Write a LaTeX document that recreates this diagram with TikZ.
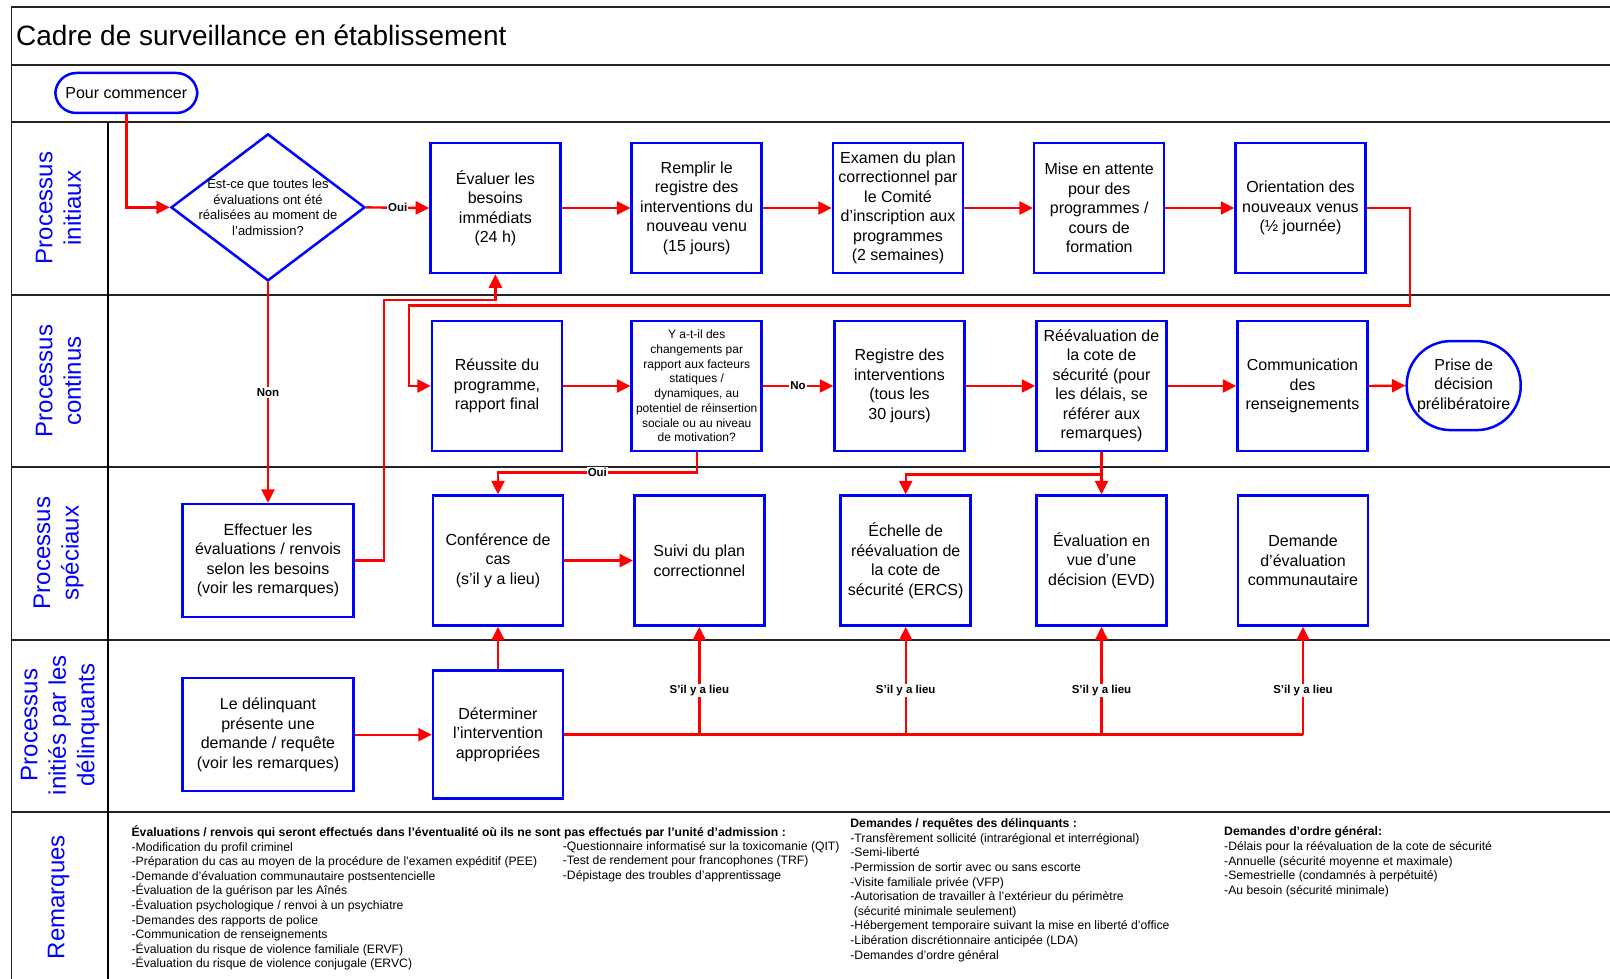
\documentclass[tikz,border=0pt]{standalone}
\usepackage{fontspec}
\setmainfont{Liberation Sans}
\usetikzlibrary{arrows.meta,shapes.geometric,calc}
\definecolor{frameblue}{RGB}{0,0,255}
\definecolor{linered}{RGB}{255,0,0}
\definecolor{gridline}{RGB}{35,35,35}
\begin{document}
\begin{tikzpicture}[x=1pt,y=-1pt,
  box/.style={draw=frameblue,line width=2.5pt,fill=white,minimum width=130pt,minimum height=130pt,align=center,inner sep=1pt,font=\fontsize{16}{19.5}\selectfont},
  widebox/.style={box,minimum width=171pt,minimum height=113pt},
  term/.style={draw=frameblue,line width=2.5pt,fill=white,align=center,inner sep=1pt,font=\fontsize{16}{19.5}\selectfont},
  conn/.style={draw=linered,line width=2.4pt,-{Triangle[length=13.5pt,width=13pt]}},
  plain/.style={draw=linered,line width=2.4pt},
  lbl/.style={font=\bfseries\fontsize{11.5}{13}\selectfont,fill=white,inner sep=1pt},
  lane/.style={rotate=90,text=frameblue,align=center,font=\fontsize{24}{28.5}\selectfont},
  grid/.style={draw=gridline,line width=1.8pt},
  note/.style={anchor=north west,align=left,inner sep=0pt,font=\fontsize{12.2}{14.6}\selectfont}
]
\useasboundingbox (0,0) rectangle (1610,979);
% frame and lanes
\draw[grid] (11.5,979) -- (11.5,6.7) -- (1610,6.7);
\foreach \yy in {65,122,295,467.2,639.7,812.2}{\draw[grid] (11.5,\yy) -- (1610,\yy);}
\draw[draw=black,line width=1.2pt] (108,122) -- (108,979);
% title
\node[anchor=west,inner sep=0pt,font=\fontsize{28}{32}\selectfont] (title) at (16,35) {Cadre de surveillance en établissement};
% lane labels
\node[lane] (L1) at (58.5,208) {Processus\\initiaux};
\node[lane] (L2) at (58.5,381) {Processus\\continus};
\node[lane] (L3) at (58.5,553) {Processus\\spéciaux};
\node[lane] (L4) at (60,725) {Processus\\initiés par les\\délinquants};
\node[lane] (L5) at (58.5,897) {Remarques};
% start
\node[term,rounded corners=21pt,minimum width=142pt,minimum height=40pt] (start) at (126.3,93) {Pour commencer};
% decision
\node[draw=frameblue,line width=2.5pt,fill=white,diamond,shape aspect=1.3,inner sep=0pt,minimum width=194pt,minimum height=147pt] (dec) at (268,207.4) {};
\node[align=center,inner sep=0pt,font=\fontsize{13}{15.4}\selectfont] (dectext) at (dec.center) {Est-ce que toutes les\\évaluations ont été\\réalisées au moment de\\l'admission?};
% row 1
\node[box] (b1) at (495.4,208) {Évaluer les\\besoins\\immédiats\\(24 h)};
\node[box] (b2) at (696.7,208) {Remplir le\\registre des\\interventions du\\nouveau venu\\(15 jours)};
\node[box] (b3) at (898,208) {Examen du plan\\correctionnel par\\le Comité\\d'inscription aux\\programmes\\(2 semaines)};
\node[box] (b4) at (1099.2,208) {Mise en attente\\pour des\\programmes /\\cours de\\formation};
\node[box] (b5) at (1300.5,208) {Orientation des\\nouveaux venus\\(½ journée)};
% row 2
\node[box] (c1) at (497,386) {Réussite du\\programme,\\rapport final};
\node[box,font=\fontsize{12}{14.7}\selectfont] (c2) at (696.7,386) {Y a-t-il des\\changements par\\rapport aux facteurs\\statiques /\\dynamiques, au\\potentiel de réinsertion\\sociale ou au niveau\\de motivation?};
\node[box] (c3) at (899.5,386) {Registre des\\interventions\\(tous les\\30 jours)};
\node[box] (c4) at (1101.5,386) {Réévaluation de\\la cote de\\sécurité (pour\\les délais, se\\référer aux\\remarques)};
\node[box] (c5) at (1302.5,386) {Communication\\des\\renseignements};
\node[term,rounded corners=44pt,minimum width=114pt,minimum height=89pt] (c6) at (1463.7,385.6) {Prise de\\décision\\prélibératoire};
% row 3
\node[widebox] (s1) at (268,560.6) {Effectuer les\\évaluations / renvois\\selon les besoins\\(voir les remarques)};
\node[box] (s2) at (498,560.6) {Conférence de\\cas\\(s'il y a lieu)};
\node[box] (s3) at (699.3,560.6) {Suivi du plan\\correctionnel};
\node[box] (s4) at (905.7,560.6) {Échelle de\\réévaluation de\\la cote de\\sécurité (ERCS)};
\node[box] (s5) at (1101.5,560.6) {Évaluation en\\vue d'une\\décision (EVD)};
\node[box] (s6) at (1303,560.6) {Demande\\d'évaluation\\communautaire};
% row 4
\node[widebox] (d1) at (268,734.7) {Le délinquant\\présente une\\demande / requête\\(voir les remarques)};
\node[box,minimum height=128pt] (d2) at (498,734.7) {Déterminer\\l'intervention\\appropriées};
% connectors
\draw[conn] (start.south) |- (dec.west);
\draw[conn] (dec.east) -- node[lbl]{Oui} (b1.west);
\draw[conn] (b1.east) -- (b2.west);
\draw[conn] (b2.east) -- (b3.west);
\draw[conn] (b3.east) -- (b4.west);
\draw[conn] (b4.east) -- (b5.west);
\coordinate (k1) at (1409.8,305.3);
\coordinate (k2) at (408.7,305.3);
\draw[conn] (b5.east) -| (k1) -- (k2) |- (c1.west);
\draw[conn] (dec.south) -- node[lbl,pos=0.5]{Non} (s1.north);
\coordinate (k3) at (384,300);
\draw[conn] (s1.east) -| (k3) -| (b1.south);
\draw[conn] (c1.east) -- (c2.west);
\draw[conn] (c2.east) -- node[lbl]{No} (c3.west);
\draw[conn] (c3.east) -- (c4.west);
\draw[conn] (c4.east) -- (c5.west);
\draw[conn] (c5.east) -- (c6.west);
\coordinate (k4) at (696.7,472.3);
\draw[conn] (c2.south) -- (k4) -| node[lbl,pos=0.25]{Oui} (s2.north);
\coordinate (k5) at (1101.5,474.4);
\draw[conn] (c4.south) -- (s5.north);
\draw[conn] (k5) -| (s4.north);
\draw[conn] (s2.east) -- (s3.west);
\draw[conn] (d1.east) -- (d2.west);
\draw[conn] (d2.north) -- (s2.south);
\coordinate (j3) at (s3.south |- d2.east);
\coordinate (j4) at (s4.south |- d2.east);
\coordinate (j5) at (s5.south |- d2.east);
\coordinate (j6) at (s6.south |- d2.east);
\draw[plain,line width=3pt] (d2.east) -- (j6);
\draw[conn] (j3) -- node[lbl,pos=0.41]{S'il y a lieu} (s3.south);
\draw[conn] (j4) -- node[lbl,pos=0.41]{S'il y a lieu} (s4.south);
\draw[conn] (j5) -- node[lbl,pos=0.41]{S'il y a lieu} (s5.south);
\draw[conn] (j6) -- node[lbl,pos=0.41]{S'il y a lieu} (s6.south);
% notes
\node[note] (n1) at (131.4,825.4) {\strut\textbf{Évaluations / renvois qui seront effectués dans l'éventualité où ils ne sont pas effectués par l'unité d'admission :}\\
-Modification du profil criminel\\
-Préparation du cas au moyen de la procédure de l'examen expéditif (PEE)\\
-Demande d'évaluation communautaire postsentencielle\\
-Évaluation de la guérison par les Aînés\\
-Évaluation psychologique / renvoi à un psychiatre\\
-Demandes des rapports de police\\
-Communication de renseignements\\
-Évaluation du risque de violence familiale (ERVF)\\
-Évaluation du risque de violence conjugale (ERVC)};
\node[note] (n2) at (562.7,839.7) {\strut-Questionnaire informatisé sur la toxicomanie (QIT)\\
-Test de rendement pour francophones (TRF)\\
-Dépistage des troubles d'apprentissage};
\node[note] (n3) at (850.2,817.2) {\strut\textbf{Demandes / requêtes des délinquants :}\\
-Transfèrement sollicité (intrarégional et interrégional)\\
-Semi-liberté\\
-Permission de sortir avec ou sans escorte\\
-Visite familiale privée (VFP)\\
-Autorisation de travailler à l'extérieur du périmètre\\
\ (sécurité minimale seulement)\\
-Hébergement temporaire suivant la mise en liberté d'office\\
-Libération discrétionnaire anticipée (LDA)\\
-Demandes d'ordre général};
\node[note] (n4) at (1224,825.4) {\strut\textbf{Demandes d'ordre général:}\\
-Délais pour la réévaluation de la cote de sécurité\\
-Annuelle (sécurité moyenne et maximale)\\
-Semestrielle (condamnés à perpétuité)\\
-Au besoin (sécurité minimale)};
\end{tikzpicture}
\end{document}
